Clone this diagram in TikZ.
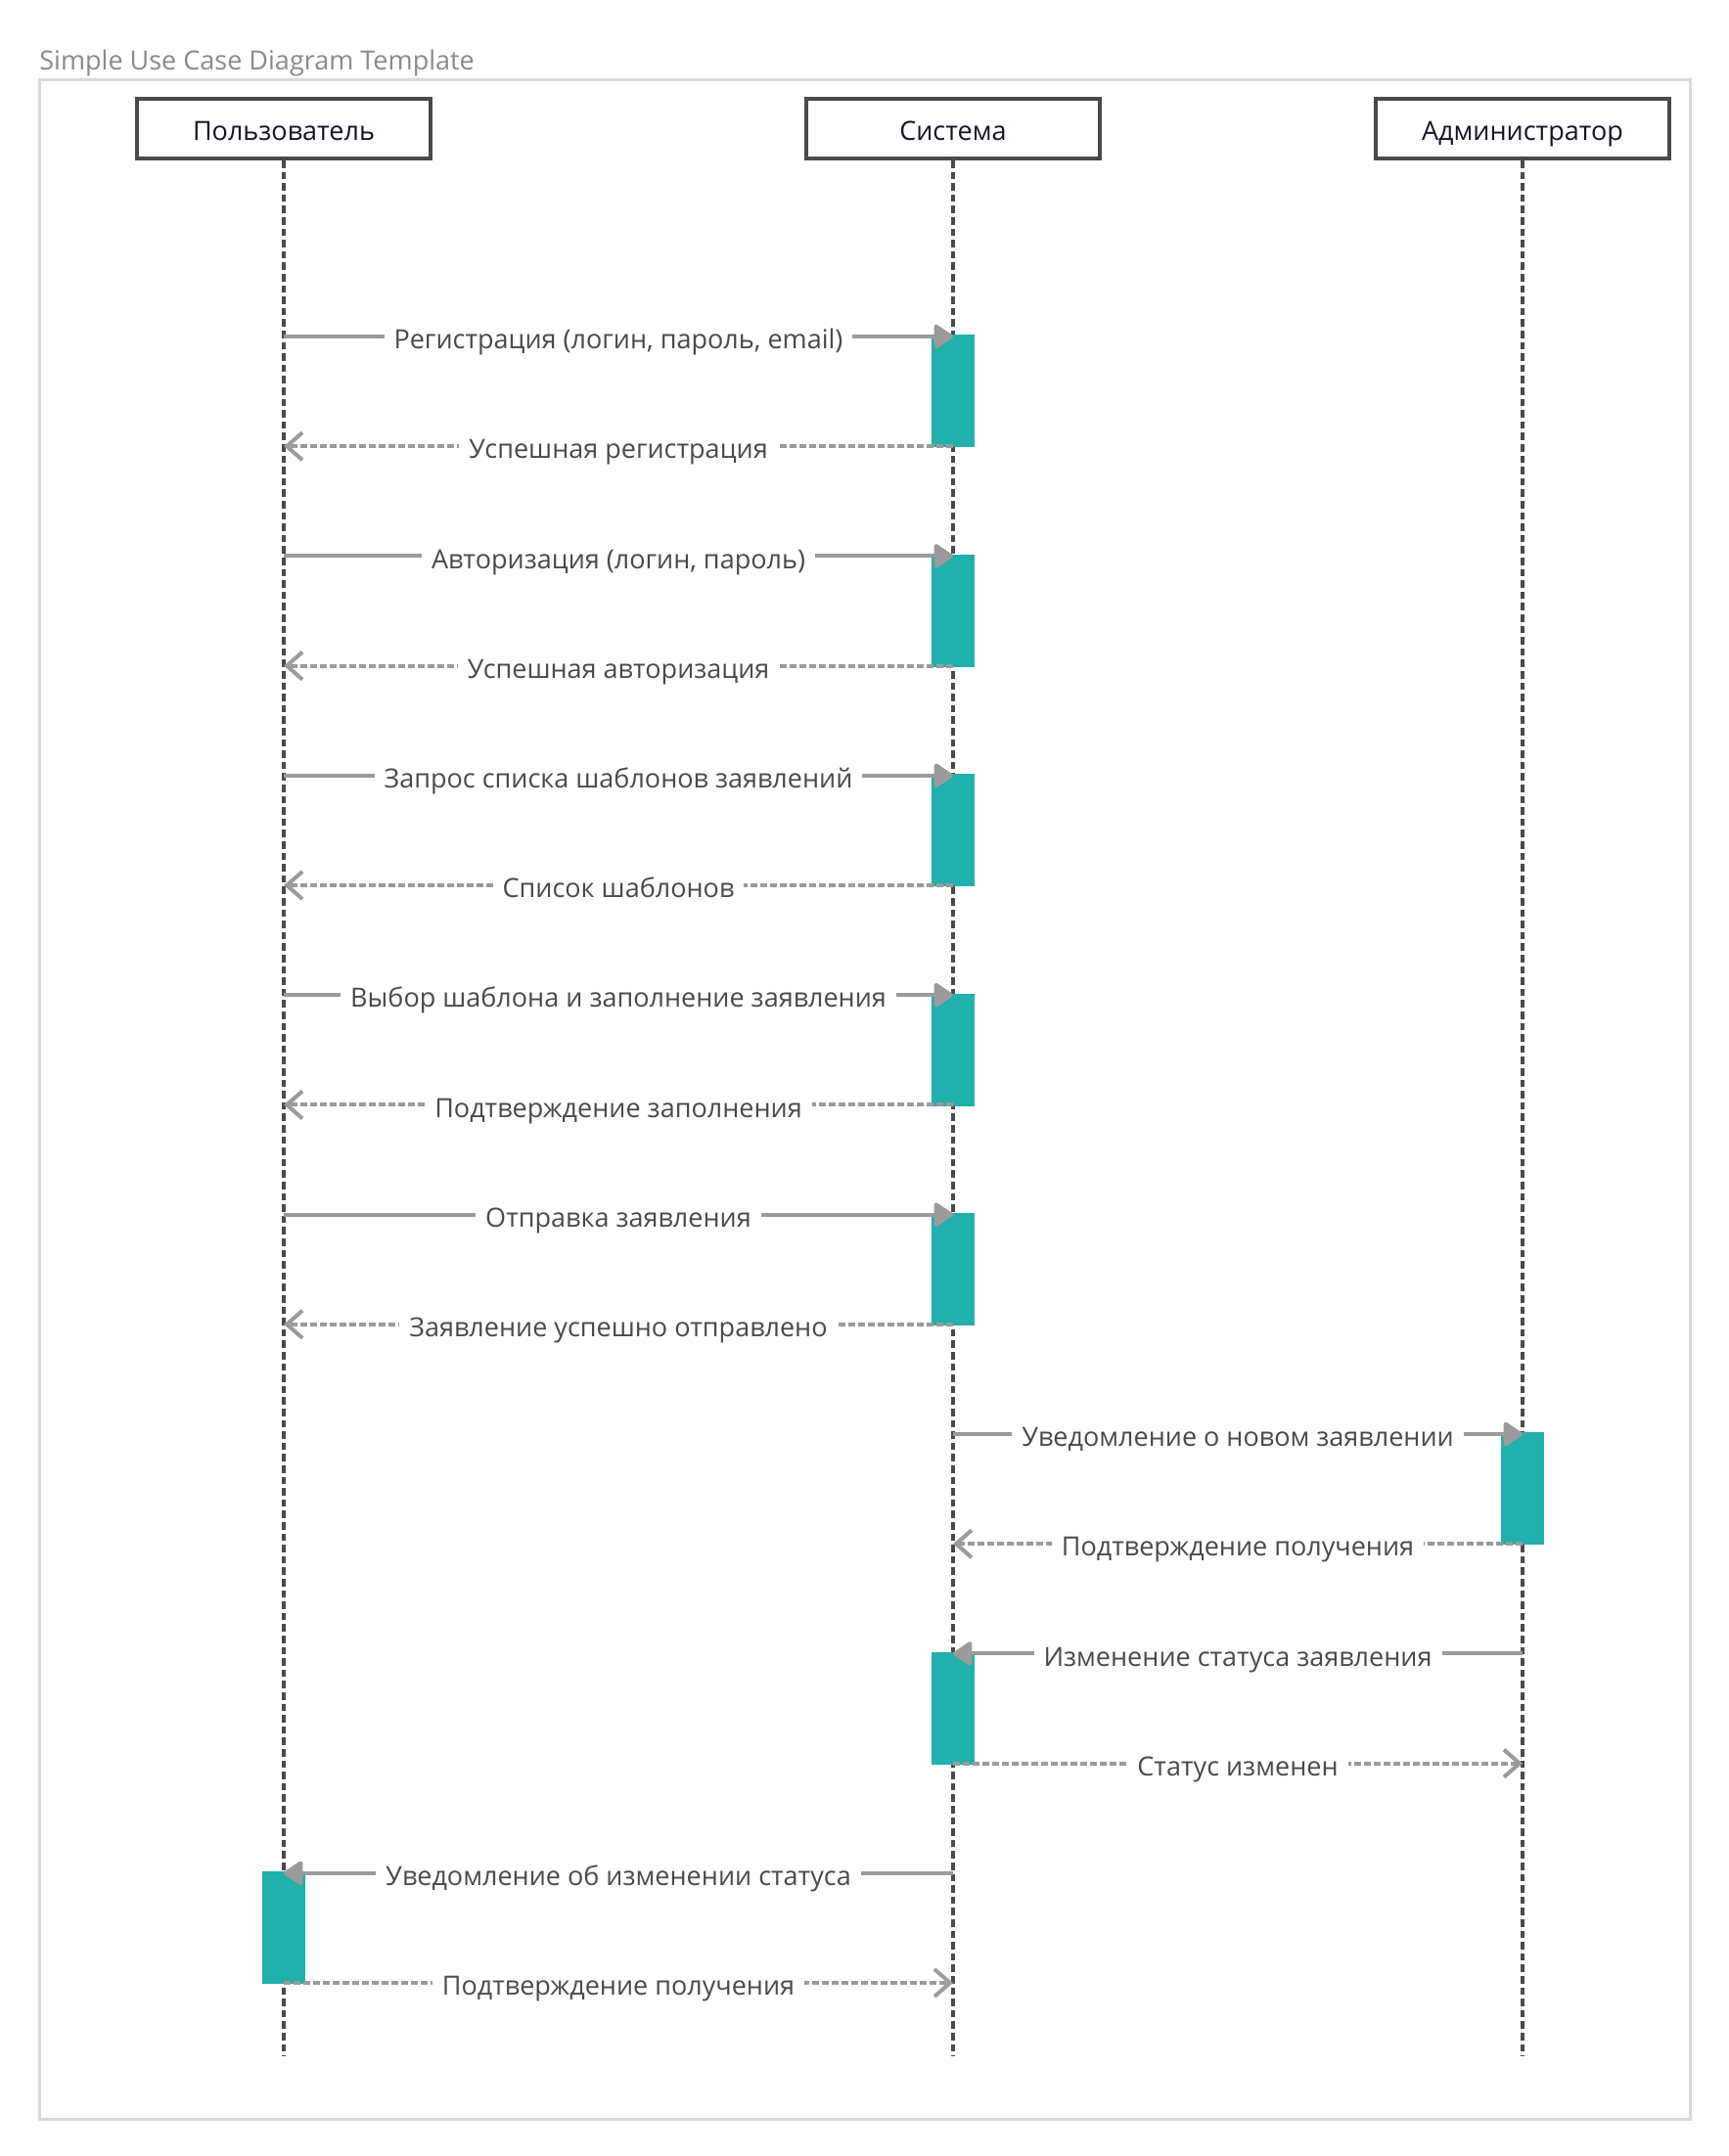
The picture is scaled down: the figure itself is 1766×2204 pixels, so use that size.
\documentclass[tikz,border=0pt]{standalone}
\usepackage{fontspec}
\setmainfont{Open Sans}
\usetikzlibrary{arrows.meta}

\definecolor{actTeal}{HTML}{22B0AC}
\definecolor{msgGray}{HTML}{9B9B9B}
\definecolor{lifeGray}{HTML}{4A4A4A}
\definecolor{labelGray}{HTML}{4A4A4A}
\definecolor{frameGray}{HTML}{D9D9D9}
\definecolor{titleGray}{HTML}{8A8A8A}
\definecolor{headInk}{HTML}{141428}

\tikzset{
  header/.style = {draw = lifeGray, line width = 2pt, minimum width = 150pt, minimum height = 30.5pt, inner sep = 0pt, text height = 1.3em, text depth = 0.12em, text = headInk, font = \fontsize{13.5}{16}\selectfont},
  lifeline/.style = {draw = lifeGray, line width = 1.75pt, dash pattern = on 3.8pt off 2pt},
  activation/.style = {fill = actTeal, minimum width = 22pt, minimum height = 57.5pt, inner sep = 0pt, anchor = north, yshift = 1pt},
  call/.style = {draw = msgGray, line width = 2pt, -{Triangle[length = 10.5pt, width = 13.5pt, round]}},
  reply/.style = {draw = msgGray, line width = 2pt, dash pattern = on 3.5pt off 1.5pt, -{Straight Barb[length = 8pt, width = 14pt]}},
  msg/.style = {fill = white, text = labelGray, inner xsep = 5pt, inner ysep = 0pt, text height = 1.2em, text depth = 0.24em, yshift = -1.5pt, font = \fontsize{13.5}{16}\selectfont}
}

\begin{document}
\begin{tikzpicture}[x = 0.5pt, y = -0.5pt]
    \useasboundingbox (0,0) rectangle (1766,2204);
    \node[anchor = base west, inner sep = 0pt, text = titleGray, font = \fontsize{13.5}{16}\selectfont](title) at (40,72) {Simple Use Case Diagram Template};
    \draw[frameGray, line width = 1.5pt] (40,82) rectangle (1727,2166);

    \node[header](user) at (290,131.5) {Пользователь};
    \node[header](system) at (974,131.5) {Система};
    \node[header](admin) at (1556,131.5) {Администратор};

    \coordinate (userEnd) at (290,2102);
    \coordinate (systemEnd) at (974,2102);
    \coordinate (adminEnd) at (1556,2102);
    \draw[lifeline] (user.south) -- (userEnd);
    \draw[lifeline] (system.south) -- (systemEnd);
    \draw[lifeline] (admin.south) -- (adminEnd);

    % one row of points per message
    \foreach \i in {1,...,16}{
      \coordinate (u\i) at (290,{344+112.2*(\i-1)});
      \coordinate (s\i) at (974,{344+112.2*(\i-1)});
      \coordinate (a\i) at (1556,{344+112.2*(\i-1)});
    }

    \node[activation](actRegistration) at (s1) {};
    \node[activation](actLogin) at (s3) {};
    \node[activation](actTemplates) at (s5) {};
    \node[activation](actFilling) at (s7) {};
    \node[activation](actSending) at (s9) {};
    \node[activation](actNotice) at (a11) {};
    \node[activation](actStatus) at (s13) {};
    \node[activation](actUserNotice) at (u15) {};

    \draw[call] (u1) -- node[msg]{Регистрация (логин, пароль, email)} (s1);
    \draw[reply] (s2) -- node[msg]{Успешная регистрация} (u2);
    \draw[call] (u3) -- node[msg]{Авторизация (логин, пароль)} (s3);
    \draw[reply] (s4) -- node[msg]{Успешная авторизация} (u4);
    \draw[call] (u5) -- node[msg]{Запрос списка шаблонов заявлений} (s5);
    \draw[reply] (s6) -- node[msg]{Список шаблонов} (u6);
    \draw[call] (u7) -- node[msg]{Выбор шаблона и заполнение заявления} (s7);
    \draw[reply] (s8) -- node[msg]{Подтверждение заполнения} (u8);
    \draw[call] (u9) -- node[msg]{Отправка заявления} (s9);
    \draw[reply] (s10) -- node[msg]{Заявление успешно отправлено} (u10);

    \draw[call] (s11) -- node[msg]{Уведомление о новом заявлении} (a11);
    \draw[reply] (a12) -- node[msg]{Подтверждение получения} (s12);
    \draw[call] (a13) -- node[msg]{Изменение статуса заявления} (s13);
    \draw[reply] (s14) -- node[msg]{Статус изменен} (a14);

    \draw[call] (s15) -- node[msg]{Уведомление об изменении статуса} (u15);
    \draw[reply] (u16) -- node[msg]{Подтверждение получения} (s16);
\end{tikzpicture}
\end{document}
